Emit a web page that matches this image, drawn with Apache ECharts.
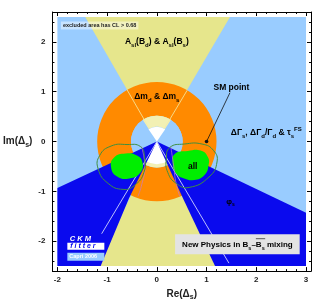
<!DOCTYPE html>
<html>
<head>
<meta charset="utf-8">
<script src="https://cdn.jsdelivr.net/npm/echarts@6/dist/echarts.min.js"></script>
<style>
  html, body { margin: 0; padding: 0; background: #fff; }
  #chart { width: 318px; height: 306px; }
</style>
</head>
<body>
<div id="chart"></div>
<script>
// CKMfitter - new physics in Bs mixing, regions in (Re, Im) units

const plotArea = [[-2, -2.5], [3, -2.5], [3, 2.5], [-2, 2.5]];
const aslUp = [[0, 0], [-1.44, 2.5], [1.47, 2.5]];
const aslDown = [[0, 0], [-1.2, -2.5], [1.2, -2.5]];
const dmRing = [0.52, 1.2];               // inner, outer radius
const holeCap = [0.3, 0.52, 57, 123];      // r0, r1, angle0, angle1 (deg)
const holeWhiteUp = [0, 0.3, 56, 124];
const holeCapDown = [0.44, 0.52, 243, 297];
const holeWhiteDown = [0, 0.45, 240, 300];
const phiLeft = [[0, 0], [-2, -0.93], [-2, -2.5], [-1.13, -2.5], [-0.56, -1.14]];
const phiRight = [[0, 0], [3, -1.43], [3, -2.5], [1.17, -2.5], [0.52, -1.13]];
const allLeft = [[-0.63, -0.24], [-0.4, -0.28], [-0.29, -0.42], [-0.33, -0.62], [-0.55, -0.74], [-0.8, -0.7], [-0.92, -0.52], [-0.86, -0.32]];
const allRight = [[0.36, -0.25], [0.62, -0.19], [0.88, -0.18], [1.02, -0.3], [1.04, -0.48], [0.95, -0.68], [0.75, -0.77], [0.55, -0.74], [0.39, -0.64], [0.32, -0.45]];
const contourLeft = [[-0.33, -0.1], [-0.25, -0.3], [-0.26, -0.62], [-0.45, -0.88], [-0.68, -0.96], [-0.98, -0.84], [-1.18, -0.55], [-1.15, -0.28], [-0.92, -0.09], [-0.6, -0.06]];
const contourRight = [[0.26, -0.12], [0.55, -0.05], [0.91, -0.05], [1.14, -0.18], [1.21, -0.41], [1.05, -0.71], [0.65, -0.92], [0.39, -0.84], [0.22, -0.62], [0.19, -0.35]];
const purpleLeft = [[-0.31, -0.1], [-0.24, -0.5], [-0.3, -0.85], [-0.38, -1.1]];
const purpleRight = [[0.28, -0.1], [0.34, -0.5], [0.38, -0.8], [0.46, -1.1]];
const whiteLines = [[[0, 0], [-1.11, -1.85]], [[0, 0], [1.45, -2.44]]];
const edgeLines = [[[-0.6, 1.04], [-0.15, 0.26]], [[0.61, 1.03], [0.15, 0.26]]];
const smPoint = [1, 0];
const smLabelAt = [1.47, 0.98];

const labels = [
  { pos: [0, 2.0], text: '{n|A}{s|sl}{n|(B}{s|d}{n|) & A}{s|sl}{n|(B}{s|s}{n|)}' },
  { pos: [0, 0.9], text: '{n|Δm}{s|d}{n| & Δm}{s|s}' },
  { pos: [1.5, 1.08], text: '{n|SM point}' },
  { pos: [2.2, 0.17], text: '{n|ΔΓ}{s|s}{n|, ΔΓ}{s|d}{n|/Γ}{s|d}{n| & τ}{s|s}{p|FS}' },
  { pos: [0.72, -0.5], text: '{n|all}' },
  { pos: [1.48, -1.2], text: '{d|φ}{ds|s}' }
];

const FONT = 'Liberation Sans, Arial, sans-serif';
const C_LBLUE = '#99ccff', C_YEL = '#e6e68c', C_PALEY = '#f2f0b4', C_ORANGE = '#ff8a00',
      C_BLUE = '#0a0aee', C_GREEN = '#00ee00', C_DGREEN = '#3f8f3f';

let myChart = echarts.init(document.getElementById('chart'));
const measure = document.createElement('canvas').getContext('2d');
function textW(t, font) { measure.font = font; return measure.measureText(t).width; }

let z = 1;
function polySeries(pts, fill, stroke, smooth) {
  return {
    type: 'custom', silent: true, clip: true, z: z++, data: [[0, 0]],
    renderItem: function (params, api) {
      return {
        type: 'polygon',
        shape: { points: pts.map(p => api.coord(p)), smooth: smooth || 0 },
        style: { fill: fill || 'none', stroke: stroke || 'none', lineWidth: 1 }
      };
    }
  };
}
function curveSeries(pts, color, w) {
  return {
    type: 'custom', silent: true, clip: true, z: z++, data: [[0, 0]],
    renderItem: function (params, api) {
      return {
        type: 'polyline',
        shape: { points: pts.map(p => api.coord(p)), smooth: 0.5 },
        style: { fill: 'none', stroke: color, lineWidth: w }
      };
    }
  };
}
function sectorSeries(s, fill) {
  return {
    type: 'custom', silent: true, clip: true, z: z++, data: [[0, 0]],
    renderItem: function (params, api) {
      const c = api.coord([0, 0]);
      const k = api.size([1, 0])[0];
      return {
        type: 'sector',
        shape: { cx: c[0], cy: c[1], r0: s[0] * k, r: s[1] * k,
                 startAngle: -s[3] * Math.PI / 180, endAngle: -s[2] * Math.PI / 180, clockwise: true },
        style: { fill: fill }
      };
    }
  };
}
function lineSeries(segs, color, w) {
  return {
    type: 'custom', silent: true, clip: true, z: z++, data: segs.map((s, i) => [i, 0]),
    renderItem: function (params, api) {
      const s = segs[params.dataIndex];
      const a = api.coord(s[0]), b = api.coord(s[1]);
      return { type: 'line', shape: { x1: a[0], y1: a[1], x2: b[0], y2: b[1] }, style: { stroke: color, lineWidth: w } };
    }
  };
}

const rich = {
  n: { fontFamily: FONT, fontWeight: 'bold', fontSize: 8.5, color: '#111', lineHeight: 13 },
  s: { fontFamily: FONT, fontWeight: 'bold', fontSize: 6, color: '#111', verticalAlign: 'bottom', lineHeight: 13 },
  p: { fontFamily: FONT, fontWeight: 'bold', fontSize: 6, color: '#111', verticalAlign: 'top', lineHeight: 13 },
  d: { fontFamily: FONT, fontWeight: 'bold', fontSize: 8, color: '#0a0a60', lineHeight: 12 },
  ds: { fontFamily: FONT, fontWeight: 'bold', fontSize: 5, color: '#0a0a60', verticalAlign: 'bottom', lineHeight: 12 }
};

const labelSeries = {
  type: 'custom', silent: true, z: 50, data: labels.map((l, i) => [i, 0]),
  renderItem: function (params, api) {
    const l = labels[params.dataIndex];
    const p = api.coord(l.pos);
    return { type: 'text', x: p[0], y: p[1],
             style: { text: l.text, rich: rich, align: 'center', verticalAlign: 'middle' } };
  }
};

// small texts: note, box caption with overline, logo
const extraSeries = {
  type: 'custom', silent: true, z: 51, data: [[0, 0]],
  renderItem: function (params, api) {
    const note = api.coord([-1.93, 2.33]);
    const box = api.coord([1.62, -2.06]);
    const ckm = api.coord([-1.75, -1.95]);
    const fit = api.coord([-1.8, -2.1]);
    const cap = api.coord([-1.8, -2.31]);
    const fN = 'bold 8px ' + FONT, fS = 'bold 5.5px ' + FONT;
    const wPre = textW('New Physics in B', fN) + textW('s', fS) + textW('–', fN);
    const wBar = textW('B', fN) + textW('s', fS);
    const wAll = wPre + wBar + textW(' mixing', fN);
    const x0 = box[0] - wAll / 2 + wPre;
    return {
      type: 'group',
      children: [
        { type: 'text', x: note[0], y: note[1],
          style: { text: 'excluded area has CL > 0.68', font: 'bold 5.5px ' + FONT, fill: '#222',
                   align: 'left', verticalAlign: 'middle', backgroundColor: 'rgba(255,255,255,0.45)', padding: [1, 2] } },
        { type: 'text', x: box[0], y: box[1],
          style: { text: '{n|New Physics in B}{s|s}{n|–B}{s|s}{n| mixing}', align: 'center', verticalAlign: 'middle',
                   backgroundColor: '#e3e3e3', padding: [4, 7, 3, 7],
                   rich: {
                     n: { fontFamily: FONT, fontWeight: 'bold', fontSize: 8, color: '#333', lineHeight: 13 },
                     s: { fontFamily: FONT, fontWeight: 'bold', fontSize: 5.5, color: '#333', verticalAlign: 'bottom', lineHeight: 13 }
                   } } },
        { type: 'line', shape: { x1: x0, y1: box[1] - 5.5, x2: x0 + wBar + 0.5, y2: box[1] - 5.5 },
          style: { stroke: '#333', lineWidth: 0.8 } },
        { type: 'text', x: ckm[0], y: ckm[1],
          style: { text: 'C K M', font: 'italic bold 7.5px ' + FONT, fill: '#fff', align: 'left', verticalAlign: 'middle' } },
        { type: 'text', x: fit[0], y: fit[1],
          style: { text: ' f i t t e r ', font: 'italic bold 7px ' + FONT, fill: '#0a0aee', align: 'left', verticalAlign: 'middle',
                   backgroundColor: '#fff', padding: [0, 1], width: 35 } },
        { type: 'text', x: cap[0], y: cap[1],
          style: { text: 'Capri 2006', font: 'bold 5.5px ' + FONT, fill: '#fff', align: 'left', verticalAlign: 'middle',
                   backgroundColor: C_LBLUE, padding: [1, 2], width: 33 } }
      ]
    };
  }
};

const smSeries = {
  type: 'custom', silent: true, z: 40, data: [[0, 0]],
  renderItem: function (params, api) {
    const a = api.coord(smLabelAt), b = api.coord(smPoint);
    return {
      type: 'group',
      children: [
        { type: 'line', shape: { x1: a[0], y1: a[1], x2: b[0], y2: b[1] }, style: { stroke: '#111', lineWidth: 0.8 } },
        { type: 'circle', shape: { cx: b[0], cy: b[1], r: 1.8 }, style: { fill: '#111' } }
      ]
    };
  }
};

const tickLabel = { fontFamily: FONT, fontWeight: 'bold', fontSize: 8, color: '#222' };
function axisBase(min, max, pos, showLabel) {
  return {
    type: 'value', min: min, max: max, position: pos,
    axisLine: { onZero: false, lineStyle: { color: '#000', width: 1 } },
    axisTick: { inside: true, length: 4, lineStyle: { color: '#000' } },
    minorTick: { show: true, splitNumber: 5, length: 2, lineStyle: { color: '#000' } },
    splitLine: { show: false },
    axisLabel: Object.assign({ show: showLabel, showMinLabel: false, showMaxLabel: false }, tickLabel)
  };
}

const xMain = axisBase(-2.1, 3.1, 'bottom', true);
xMain.axisLabel.margin = 5;
xMain.name = '{n|Re(Δ}{s|s}{n|)}';
xMain.nameLocation = 'middle';
xMain.nameGap = 13;
xMain.nameTextStyle = { rich: {
  n: { fontFamily: FONT, fontWeight: 'bold', fontSize: 10, color: '#222', lineHeight: 14 },
  s: { fontFamily: FONT, fontWeight: 'bold', fontSize: 7, color: '#222', verticalAlign: 'bottom', lineHeight: 14 } } };

const yMain = axisBase(-2.6, 2.6, 'left', true);
yMain.axisLabel.margin = 7;
yMain.name = '{n|Im(Δ}{s|s}{n|)}';
yMain.nameLocation = 'middle';
yMain.nameRotate = 0;
yMain.nameGap = 17;
yMain.nameTextStyle = { rich: xMain.nameTextStyle.rich };

option = {
  animation: false,
  backgroundColor: '#fff',
  grid: { left: 47, right: 7, top: 12, bottom: 30 },
  xAxis: [xMain, axisBase(-2.1, 3.1, 'top', false)],
  yAxis: [yMain, axisBase(-2.6, 2.6, 'right', false)],
  series: [
    polySeries(plotArea, C_LBLUE),
    polySeries(aslUp, C_YEL),
    polySeries(aslDown, C_YEL),
    sectorSeries([dmRing[0], dmRing[1], 0, 360], C_ORANGE),
    sectorSeries([0, dmRing[0], 0, 360], C_LBLUE),
    sectorSeries(holeCap, C_PALEY),
    sectorSeries(holeWhiteUp, '#fff'),
    sectorSeries(holeCapDown, C_PALEY),
    sectorSeries(holeWhiteDown, '#fff'),
    polySeries(phiLeft, C_BLUE),
    polySeries(phiRight, C_BLUE),
    lineSeries(edgeLines, '#f3eca8', 0.8),
    lineSeries(whiteLines, '#e8eeff', 0.8),
    polySeries(allLeft, C_GREEN, null, 0.5),
    polySeries(allRight, C_GREEN, null, 0.5),
    curveSeries(purpleLeft, '#c878c8', 0.7),
    curveSeries(purpleRight, '#c878c8', 0.7),
    polySeries(contourLeft, null, C_DGREEN, 0.5),
    polySeries(contourRight, null, C_DGREEN, 0.5),
    smSeries,
    labelSeries,
    extraSeries
  ]
};

myChart.setOption(option);
</script>
</body>
</html>
